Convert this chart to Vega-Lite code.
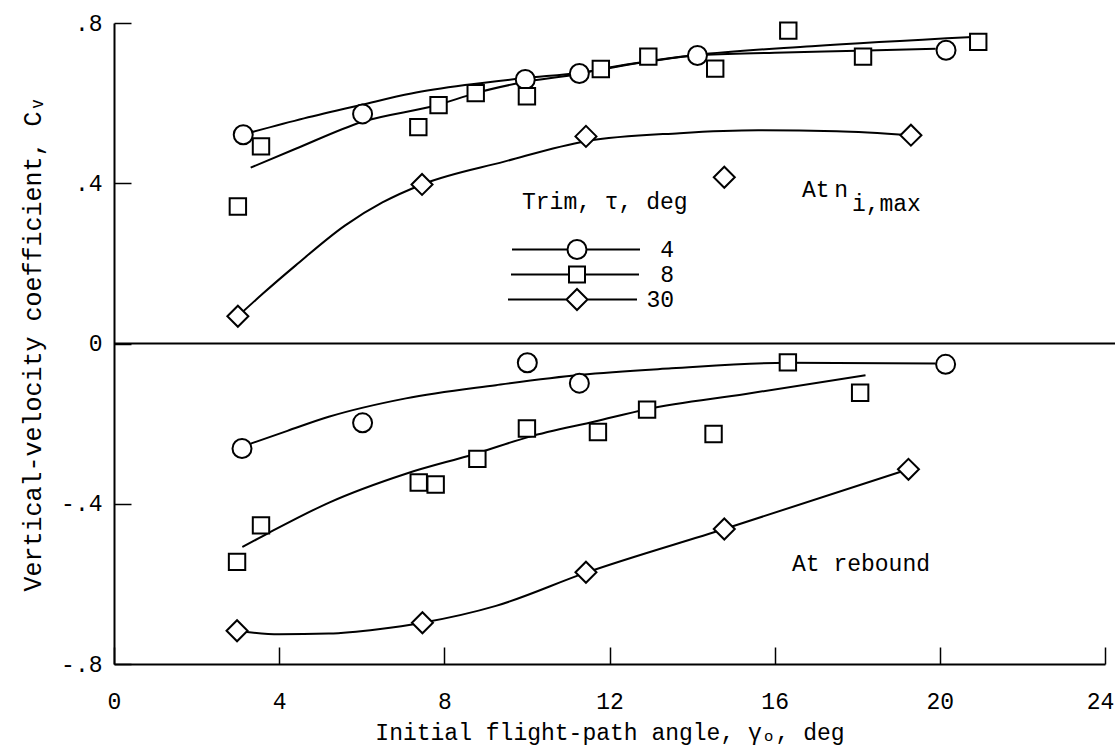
{
  "$schema": "https://vega.github.io/schema/vega-lite/v6.json",
  "width": 991,
  "height": 641,
  "autosize": {"type": "none"},
  "padding": {"left": 114, "top": 23, "right": 10, "bottom": 82},
  "background": "white",
  "config": {
    "view": {"stroke": null},
    "font": "Liberation Mono",
    "axis": {
      "labelFont": "Liberation Mono",
      "titleFont": "Liberation Mono",
      "labelFontSize": 23,
      "titleFontSize": 23,
      "titleFontWeight": "normal",
      "labelColor": "black",
      "titleColor": "black",
      "domainColor": "black",
      "tickColor": "black",
      "domainWidth": 2,
      "tickWidth": 1.5,
      "grid": false
    },
    "legend": {
      "labelFont": "Liberation Mono",
      "titleFont": "Liberation Mono",
      "labelColor": "black",
      "titleColor": "black"
    }
  },
  "datasets": {
    "points": [
      {"phase": "max", "trim": "4", "x": 3.13, "y": 0.521},
      {"phase": "max", "trim": "4", "x": 6.02, "y": 0.573},
      {"phase": "max", "trim": "4", "x": 9.96, "y": 0.659},
      {"phase": "max", "trim": "4", "x": 11.27, "y": 0.674},
      {"phase": "max", "trim": "4", "x": 14.13, "y": 0.719},
      {"phase": "max", "trim": "4", "x": 20.15, "y": 0.732},
      {"phase": "max", "trim": "8", "x": 3.0, "y": 0.342},
      {"phase": "max", "trim": "8", "x": 3.56, "y": 0.492},
      {"phase": "max", "trim": "8", "x": 7.37, "y": 0.54},
      {"phase": "max", "trim": "8", "x": 7.86, "y": 0.595},
      {"phase": "max", "trim": "8", "x": 8.76, "y": 0.625},
      {"phase": "max", "trim": "8", "x": 10.0, "y": 0.617},
      {"phase": "max", "trim": "8", "x": 11.79, "y": 0.685},
      {"phase": "max", "trim": "8", "x": 12.94, "y": 0.716},
      {"phase": "max", "trim": "8", "x": 14.56, "y": 0.686},
      {"phase": "max", "trim": "8", "x": 16.33, "y": 0.781},
      {"phase": "max", "trim": "8", "x": 18.14, "y": 0.716},
      {"phase": "max", "trim": "8", "x": 20.93, "y": 0.753},
      {"phase": "max", "trim": "30", "x": 3.0, "y": 0.068},
      {"phase": "max", "trim": "30", "x": 7.46, "y": 0.397},
      {"phase": "max", "trim": "30", "x": 11.43, "y": 0.517},
      {"phase": "max", "trim": "30", "x": 14.78, "y": 0.415},
      {"phase": "max", "trim": "30", "x": 19.3, "y": 0.52},
      {"phase": "rebound", "trim": "4", "x": 3.1, "y": -0.262},
      {"phase": "rebound", "trim": "4", "x": 6.02, "y": -0.198},
      {"phase": "rebound", "trim": "4", "x": 10.01, "y": -0.048},
      {"phase": "rebound", "trim": "4", "x": 11.27, "y": -0.099},
      {"phase": "rebound", "trim": "4", "x": 20.14, "y": -0.052},
      {"phase": "rebound", "trim": "8", "x": 2.98, "y": -0.545},
      {"phase": "rebound", "trim": "8", "x": 3.56, "y": -0.454},
      {"phase": "rebound", "trim": "8", "x": 7.38, "y": -0.347},
      {"phase": "rebound", "trim": "8", "x": 7.79, "y": -0.352},
      {"phase": "rebound", "trim": "8", "x": 8.8, "y": -0.288},
      {"phase": "rebound", "trim": "8", "x": 10.0, "y": -0.212},
      {"phase": "rebound", "trim": "8", "x": 11.72, "y": -0.221},
      {"phase": "rebound", "trim": "8", "x": 12.91, "y": -0.165},
      {"phase": "rebound", "trim": "8", "x": 14.52, "y": -0.226},
      {"phase": "rebound", "trim": "8", "x": 16.32, "y": -0.047},
      {"phase": "rebound", "trim": "8", "x": 18.07, "y": -0.123},
      {"phase": "rebound", "trim": "30", "x": 2.98, "y": -0.717},
      {"phase": "rebound", "trim": "30", "x": 7.47, "y": -0.697},
      {"phase": "rebound", "trim": "30", "x": 11.43, "y": -0.571},
      {"phase": "rebound", "trim": "30", "x": 14.78, "y": -0.463},
      {"phase": "rebound", "trim": "30", "x": 19.24, "y": -0.314}
    ],
    "curves": [
      {"curve": "max-4", "x": 3.35, "y": 0.528},
      {"curve": "max-4", "x": 4.6, "y": 0.562},
      {"curve": "max-4", "x": 6.0, "y": 0.596},
      {"curve": "max-4", "x": 7.2, "y": 0.624},
      {"curve": "max-4", "x": 8.5, "y": 0.645},
      {"curve": "max-4", "x": 9.9, "y": 0.662},
      {"curve": "max-4", "x": 11.3, "y": 0.676},
      {"curve": "max-4", "x": 12.7, "y": 0.7},
      {"curve": "max-4", "x": 14.1, "y": 0.719},
      {"curve": "max-4", "x": 16.0, "y": 0.726},
      {"curve": "max-4", "x": 18.0, "y": 0.731},
      {"curve": "max-4", "x": 19.9, "y": 0.736},
      {"curve": "max-8", "x": 3.31, "y": 0.439},
      {"curve": "max-8", "x": 4.4, "y": 0.486},
      {"curve": "max-8", "x": 6.0, "y": 0.553},
      {"curve": "max-8", "x": 7.86, "y": 0.596},
      {"curve": "max-8", "x": 8.76, "y": 0.625},
      {"curve": "max-8", "x": 9.9, "y": 0.652},
      {"curve": "max-8", "x": 11.3, "y": 0.674},
      {"curve": "max-8", "x": 11.79, "y": 0.685},
      {"curve": "max-8", "x": 12.7, "y": 0.701},
      {"curve": "max-8", "x": 14.1, "y": 0.72},
      {"curve": "max-8", "x": 16.9, "y": 0.742},
      {"curve": "max-8", "x": 20.8, "y": 0.765},
      {"curve": "max-30", "x": 3.0, "y": 0.068},
      {"curve": "max-30", "x": 3.6, "y": 0.124},
      {"curve": "max-30", "x": 4.4, "y": 0.195},
      {"curve": "max-30", "x": 5.6, "y": 0.295},
      {"curve": "max-30", "x": 6.5, "y": 0.352},
      {"curve": "max-30", "x": 7.46, "y": 0.397},
      {"curve": "max-30", "x": 9.45, "y": 0.454},
      {"curve": "max-30", "x": 11.43, "y": 0.505},
      {"curve": "max-30", "x": 13.7, "y": 0.525},
      {"curve": "max-30", "x": 15.6, "y": 0.532},
      {"curve": "max-30", "x": 17.5, "y": 0.53},
      {"curve": "max-30", "x": 19.3, "y": 0.52},
      {"curve": "reb-4", "x": 3.31, "y": -0.25},
      {"curve": "reb-4", "x": 4.2, "y": -0.218},
      {"curve": "reb-4", "x": 5.2, "y": -0.183},
      {"curve": "reb-4", "x": 7.07, "y": -0.137},
      {"curve": "reb-4", "x": 9.25, "y": -0.104},
      {"curve": "reb-4", "x": 11.3, "y": -0.078},
      {"curve": "reb-4", "x": 13.5, "y": -0.062},
      {"curve": "reb-4", "x": 16.3, "y": -0.048},
      {"curve": "reb-4", "x": 19.9, "y": -0.05},
      {"curve": "reb-8", "x": 3.11, "y": -0.508},
      {"curve": "reb-8", "x": 3.76, "y": -0.472},
      {"curve": "reb-8", "x": 5.21, "y": -0.397},
      {"curve": "reb-8", "x": 7.07, "y": -0.325},
      {"curve": "reb-8", "x": 8.76, "y": -0.275},
      {"curve": "reb-8", "x": 10.05, "y": -0.233},
      {"curve": "reb-8", "x": 11.67, "y": -0.194},
      {"curve": "reb-8", "x": 12.91, "y": -0.164},
      {"curve": "reb-8", "x": 15.3, "y": -0.126},
      {"curve": "reb-8", "x": 18.2, "y": -0.079},
      {"curve": "reb-30", "x": 2.98, "y": -0.717},
      {"curve": "reb-30", "x": 4.0, "y": -0.726},
      {"curve": "reb-30", "x": 5.2, "y": -0.724},
      {"curve": "reb-30", "x": 6.4, "y": -0.713},
      {"curve": "reb-30", "x": 7.47, "y": -0.697},
      {"curve": "reb-30", "x": 9.25, "y": -0.655},
      {"curve": "reb-30", "x": 11.43, "y": -0.572},
      {"curve": "reb-30", "x": 14.78, "y": -0.463},
      {"curve": "reb-30", "x": 19.24, "y": -0.314}
    ],
    "zero": [
      {"x": 0, "x2": 24.3, "y": 0}
    ],
    "notes": [
      {"text": "At", "x": 16.66, "y": 0.3825},
      {"text": "n", "x": 17.44, "y": 0.3825},
      {"text": "i,max", "x": 17.87, "y": 0.3475},
      {"text": "At rebound", "x": 16.42, "y": -0.55}
    ]
  },
  "encoding": {
    "x": {
      "field": "x", "type": "quantitative",
      "scale": {"domain": [0, 24], "nice": false},
      "axis": {
        "title": "Initial flight-path angle, γₒ, deg",
        "values": [0, 4, 8, 12, 16, 20, 24],
        "format": "d",
        "tickSize": -17,
        "labelPadding": 43,
        "labelOffset": {"condition": {"test": "datum.value == 24", "value": -5}, "value": 0},
        "titlePadding": 8,
        "labelFlush": false,
        "labelOverlap": false
      }
    },
    "y": {
      "field": "y", "type": "quantitative",
      "scale": {"domain": [-0.8, 0.8], "nice": false},
      "axis": {
        "title": "Vertical-velocity coefficient, Cᵥ",
        "titleFontSize": 25,
        "values": [-0.8, -0.4, 0, 0.4, 0.8],
        "labelExpr": "datum.value == 0 ? '0' : (datum.value < 0 ? '-.' : '.') + round(abs(datum.value) * 10)",
        "tickSize": -17,
        "labelPadding": 29,
        "titlePadding": 15,
        "labelFlush": false,
        "labelOverlap": false
      }
    }
  },
  "layer": [
    {
      "data": {"name": "zero"},
      "mark": {"type": "rule", "color": "black", "strokeWidth": 2},
      "encoding": {
        "x2": {"field": "x2"}
      }
    },
    {
      "data": {"name": "curves"},
      "mark": {"type": "line", "color": "black", "strokeWidth": 2, "interpolate": "monotone"},
      "encoding": {
        "detail": {"field": "curve", "type": "nominal"}
      }
    },
    {
      "data": {"name": "points"},
      "transform": [{"filter": "false"}],
      "mark": {"type": "point", "filled": true, "fill": "white", "stroke": "black", "strokeWidth": 2, "size": 400, "opacity": 1},
      "encoding": {
        "shape": {
          "field": "trim", "type": "nominal",
          "scale": {
            "domain": ["4", "8", "30"],
            "range": [
              "M-2.15,0H3.4M5.3,0H10.65M5.3,0A0.95,0.95,0,1,1,3.4,0A0.95,0.95,0,1,1,5.3,0Z",
              "M-2.25,0H3.55M5.15,0H10.55M3.55,-0.8H5.15V0.8H3.55Z",
              "M-2.55,0H3.3M5.4,0H10.35M3.3,0L4.35,-1.05L5.4,0L4.35,1.05Z"
            ]
          },
          "legend": {
            "title": "Trim, τ, deg",
            "orient": "none",
            "legendX": 408,
            "legendY": 168,
            "titleFontSize": 23,
            "titleFontWeight": "normal",
            "titlePadding": 24,
            "labelFontSize": 23,
            "labelAlign": "right",
            "labelOffset": 129,
            "symbolSize": 400,
            "symbolStrokeWidth": 2,
            "rowPadding": -2
          }
        }
      }
    },
    {
      "data": {"name": "points"},
      "mark": {"type": "point", "filled": true, "fill": "white", "stroke": "black", "strokeWidth": 2, "size": 400, "opacity": 1},
      "encoding": {
        "shape": {
          "field": "trim", "type": "nominal",
          "scale": {
            "domain": ["4", "8", "30"],
            "range": [
              "M0.95,0A0.95,0.95,0,1,1,-0.95,0A0.95,0.95,0,1,1,0.95,0Z",
              "M-0.82,-0.82H0.82V0.82H-0.82Z",
              "M-1.05,0L0,-1.05L1.05,0L0,1.05Z"
            ]
          },
          "legend": null
        }
      }
    },
    {
      "data": {"name": "notes"},
      "mark": {"type": "text", "align": "left", "baseline": "middle", "fontSize": 23, "font": "Liberation Mono", "color": "black"},
      "encoding": {
        "text": {"field": "text"}
      }
    }
  ],
  "resolve": {"scale": {"shape": "independent"}, "legend": {"shape": "independent"}}
}
